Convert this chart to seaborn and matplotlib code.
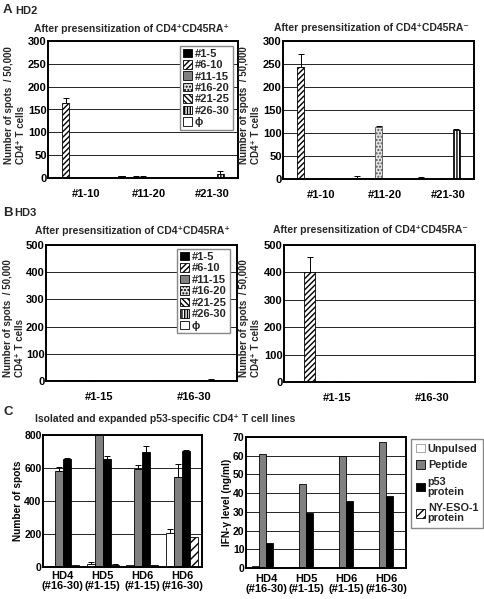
import numpy as np
import pandas as pd
import seaborn as sns
import matplotlib
matplotlib.use("Agg")
import matplotlib.pyplot as plt
from matplotlib.patches import Patch
from matplotlib.transforms import ScaledTranslation

# ---------------- data ----------------
pools = ["#1-5", "#6-10", "#11-15", "#16-20", "#21-25", "#26-30", "ϕ"]
groups_a = ["#1-10", "#11-20", "#21-30"]
groups_b = ["#1-15", "#16-30"]

# Panel A (HD2), rows follow `pools`, columns follow `groups_a`
a_ra_pos = [[1, 4, 1], [165, 2, 1], [1, 3, 1], [1, 3, 1], [1, 1, 1], [1, 1, 8], [1, 1, 1]]
a_ra_pos_err = [[0, 1, 0], [10, 0, 0], [0, 1, 0], [0, 1, 0], [0, 0, 0], [0, 0, 7], [0, 0, 0]]
a_ra_neg = [[1, 3, 3], [243, 1, 1], [1, 1, 1], [1, 113, 1], [2, 1, 1], [1, 1, 107], [1, 1, 1]]
a_ra_neg_err = [[0, 3, 1], [28, 0, 0], [0, 0, 0], [0, 2, 1], [1, 0, 0], [0, 0, 2], [0, 0, 0]]

# Panel B (HD3), columns follow `groups_b`
b_ra_pos = [[1, 3], [2, 3], [1, 4], [2, 3], [1, 4], [1, 5], [1, 3]]
b_ra_pos_err = [[0, 0], [0, 0], [0, 1], [0, 0], [0, 1], [0, 1], [0, 0]]
b_ra_neg = [[2, 1], [400, 1], [2, 1], [1, 2], [2, 2], [1, 2], [1, 1]]
b_ra_neg_err = [[0, 0], [55, 0], [0, 0], [0, 0], [0, 0], [0, 0], [0, 0]]

# Panel C
c_groups = ["HD4\n(#16-30)", "HD5\n(#1-15)", "HD6\n(#1-15)", "HD6\n(#16-30)"]
c_conditions = ["Unpulsed", "Peptide", "p53\nprotein", "NY-ESO-1\nprotein"]
spots_unpulsed = [8, 18, 10, 208]
spots_peptide = [580, 870, 596, 545]
spots_p53 = [657, 657, 694, 706]
spots_nyeso = [10, 14, 12, 184]
spots_err_unpulsed = [0, 12, 0, 25]
spots_err_peptide = [28, 0, 20, 77]
spots_err_p53 = [3, 16, 41, 4]
spots_err_nyeso = [0, 6, 2, 0]
ifn_unpulsed = [0.9, 0.7, 0.0, 0.0]
ifn_peptide = [60.7, 44.9, 59.6, 67.1]
ifn_p53 = [13.3, 29.6, 35.7, 38.6]
ifn_nyeso = [0.0, 0.0, 0.0, 0.0]

# ---------------- styles ----------------
pool_colors = ["black", "white", "#808080", "#e4e4e4", "white", "white", "white"]
pool_hatches = [None, "//////", None, ".....", "\\\\\\\\\\\\", "||||||", None]
cond_colors = ["white", "#808080", "black", "white"]
cond_hatches = [None, None, None, "////"]

sns.set_theme(style="white")
plt.rcParams["font.family"] = ["Liberation Sans", "DejaVu Sans"]
plt.rcParams["font.weight"] = "bold"
plt.rcParams["hatch.linewidth"] = 1.0

W, H = 484, 599
fig = plt.figure(figsize=(W / 100, H / 100), dpi=100)


def add_ax(x0, y0, x1, y1):
    return fig.add_axes([x0 / W, 1 - y1 / H, (x1 - x0) / W, (y1 - y0) / H])


def ftext(x, y, s, **kw):
    return fig.text(x / W, 1 - y / H, s, **kw)


def draw_bars(ax, groups, levels, values, errs, colors, hatches, width):
    rows = []
    for lvl, vals in zip(levels, values):
        for g, v in zip(groups, vals):
            rows.append({"group": g, "level": lvl, "value": v})
    df = pd.DataFrame(rows)
    sns.barplot(data=df, x="group", y="value", hue="level", order=groups,
                hue_order=levels, palette=dict(zip(levels, colors)),
                saturation=1, width=width, edgecolor="black", linewidth=0.6,
                errorbar=None, legend=False, ax=ax, zorder=2)
    for cont, h, e in zip(ax.containers, hatches, errs):
        xs, ys, es = [], [], []
        for bar, ev in zip(cont, e):
            if h:
                bar.set_hatch(h)
                if "." in h:
                    bar.set_edgecolor("#555555")
            if ev > 0:
                xs.append(bar.get_x() + bar.get_width() / 2)
                ys.append(bar.get_height())
                es.append(ev)
        if xs:
            ax.errorbar(xs, ys, yerr=[np.zeros(len(es)), es], fmt="none",
                        ecolor="black", elinewidth=0.7, capsize=2,
                        capthick=0.7, zorder=1.5)


def style_ax(ax, ylim, yticks, xfs=8, yfs=8, xpad=8, shift=0):
    ax.set_ylim(*ylim)
    ax.set_yticks(yticks)
    ax.set_yticklabels([str(t) for t in yticks], fontsize=yfs, fontweight="bold")
    ax.set_xlabel("")
    ax.set_ylabel("")
    ax.yaxis.grid(True, color="black", lw=0.6)
    ax.set_axisbelow(True)
    for sp in ax.spines.values():
        sp.set_color("black")
        sp.set_linewidth(1.4)
        sp.set_visible(True)
    ax.tick_params(axis="y", length=0, pad=1, colors="black")
    ax.tick_params(axis="x", length=0, pad=xpad, colors="black", labelsize=xfs)
    n = len(ax.get_xticks())
    ax.set_xticks(np.arange(n - 1) + 0.5, minor=True)
    ax.tick_params(axis="x", which="minor", direction="in", length=3, width=0.7)
    ax.set_xlim(-0.5, n - 0.5)
    for lbl in ax.get_xticklabels():
        lbl.set_fontweight("bold")
        if shift:
            lbl.set_transform(lbl.get_transform() + ScaledTranslation(shift / 100, 0, fig.dpi_scale_trans))


def two_line_ylabel(x1, x2, ybottom):
    ftext(x1, ybottom, "Number of spots  / 50,000", rotation=90, ha="center",
          va="bottom", fontsize=7, fontweight="bold")
    ftext(x2, ybottom, "CD4⁺ T cells", rotation=90, ha="center", va="bottom",
          fontsize=7, fontweight="bold")


def pool_legend(ax, anchor):
    handles = [Patch(facecolor=c, edgecolor="black", hatch=h, lw=0.6)
               for c, h in zip(pool_colors, pool_hatches)]
    leg = ax.legend(handles, pools, loc="upper left", bbox_to_anchor=anchor,
                    fontsize=8, frameon=True, fancybox=False, framealpha=1,
                    edgecolor="#888888", handlelength=0.8, handleheight=0.8,
                    handletextpad=0.3, labelspacing=0.12, borderpad=0.25,
                    borderaxespad=0)
    leg.get_frame().set_linewidth(1.0)
    for t in leg.get_texts():
        t.set_fontweight("bold")


# ---------------- Panel A ----------------
ftext(3, 10, "A", fontsize=9.5, fontweight="bold", va="center", ha="left")
ftext(15, 10.5, "HD2", fontsize=8, fontweight="bold", va="center", ha="left")

ax = add_ax(48, 41, 238, 178)
draw_bars(ax, groups_a, pools, a_ra_pos, a_ra_pos_err, pool_colors, pool_hatches, 0.78)
style_ax(ax, (0, 300), list(range(0, 301, 50)), shift=6)
pool_legend(ax, (0.695, 0.965))
ftext(131, 29, "After presensitization of CD4⁺CD45RA⁺", ha="center", va="center",
      fontsize=7.5, fontweight="bold")
two_line_ylabel(9, 21, 164)

ax = add_ax(283, 41, 474, 179)
draw_bars(ax, groups_a, pools, a_ra_neg, a_ra_neg_err, pool_colors, pool_hatches, 0.78)
style_ax(ax, (0, 300), list(range(0, 301, 50)), shift=6)
ftext(371, 28, "After presensitization of CD4⁺CD45RA⁻", ha="center", va="center",
      fontsize=7.5, fontweight="bold")
two_line_ylabel(244, 256, 164)

# ---------------- Panel B ----------------
ftext(3, 213, "B", fontsize=9.5, fontweight="bold", va="center", ha="left")
ftext(14, 213.5, "HD3", fontsize=8, fontweight="bold", va="center", ha="left")

ax = add_ax(46, 245, 237, 381)
draw_bars(ax, groups_b, pools, b_ra_pos, b_ra_pos_err, pool_colors, pool_hatches, 0.81)
style_ax(ax, (0, 500), list(range(0, 501, 100)), shift=5)
pool_legend(ax, (0.686, 0.97))
ftext(132.5, 231, "After presensitization of CD4⁺CD45RA⁺", ha="center", va="center",
      fontsize=7.5, fontweight="bold")
two_line_ylabel(8, 20, 377)

ax = add_ax(284, 245, 475, 382)
draw_bars(ax, groups_b, pools, b_ra_neg, b_ra_neg_err, pool_colors, pool_hatches, 0.81)
style_ax(ax, (0, 500), list(range(0, 501, 100)), shift=5)
ftext(370, 230, "After presensitization of CD4⁺CD45RA⁻", ha="center", va="center",
      fontsize=7.5, fontweight="bold")
two_line_ylabel(244, 256, 377)

# ---------------- Panel C ----------------
ftext(3, 412, "C", fontsize=9.5, fontweight="bold", va="center", ha="left")
ftext(35, 419, "Isolated and expanded p53-specific CD4⁺ T cell lines", ha="left",
      va="center", fontsize=7.5, fontweight="bold")

ax = add_ax(43, 435, 202, 567)
draw_bars(ax, c_groups, c_conditions,
          [spots_unpulsed, spots_peptide, spots_p53, spots_nyeso],
          [spots_err_unpulsed, spots_err_peptide, spots_err_p53, spots_err_nyeso],
          cond_colors, cond_hatches, 0.8)
style_ax(ax, (0, 800), list(range(0, 801, 200)), xfs=8, yfs=7.5, xpad=3)
for lbl in ax.get_xticklabels():
    lbl.set_linespacing(1.0)
ax.set_ylabel("Number of spots", fontsize=7.3, fontweight="bold", labelpad=1, color="black")

ax = add_ax(246, 437, 406, 568)
draw_bars(ax, c_groups, c_conditions,
          [ifn_unpulsed, ifn_peptide, ifn_p53, ifn_nyeso],
          [[0] * 4] * 4, cond_colors, cond_hatches, 0.7)
style_ax(ax, (0, 70), list(range(0, 71, 10)), xfs=8, yfs=7.5, xpad=4)
for lbl in ax.get_xticklabels():
    lbl.set_linespacing(1.0)
ax.set_ylabel("IFN-γ level (ng/ml)", fontsize=7.3, fontweight="bold", labelpad=1, color="black")

handles = [Patch(facecolor=c, edgecolor="black" if c != "white" or h else "#999999",
                 hatch=h, lw=0.6) for c, h in zip(cond_colors, cond_hatches)]
leg = fig.legend(handles, c_conditions, loc="upper left",
                 bbox_to_anchor=(411 / W, 1 - 439 / H), fontsize=7.8,
                 frameon=True, fancybox=False, framealpha=1, edgecolor="#888888",
                 handlelength=0.8, handleheight=0.8, handletextpad=0.3,
                 labelspacing=0.6, borderpad=0.45, borderaxespad=0)
leg.get_frame().set_linewidth(1.0)
for t in leg.get_texts():
    t.set_fontweight("bold")
    t.set_linespacing(1.0)

fig.savefig("out.png", dpi=100)
